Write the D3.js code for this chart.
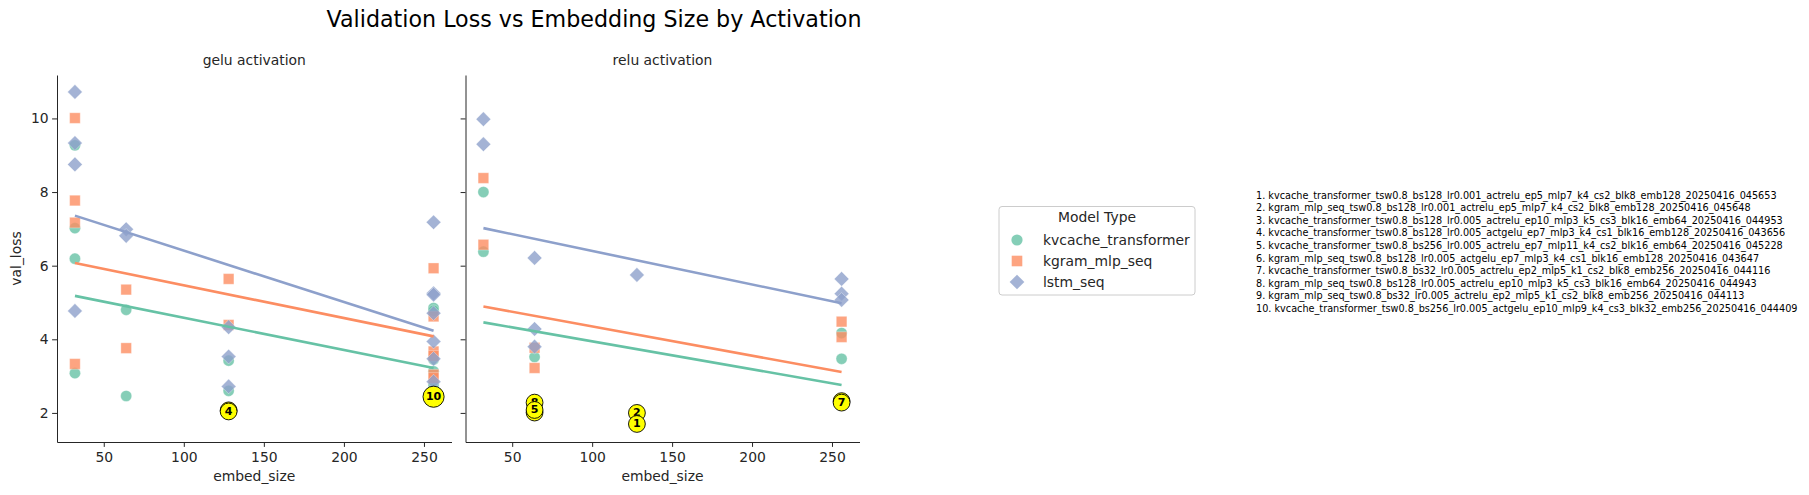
<!DOCTYPE html>
<html><head><meta charset="utf-8">
<script src="https://cdn.jsdelivr.net/npm/d3@7"></script>
<style>body{margin:0;background:#fff}svg{display:block}</style>
</head><body><svg id="c" width="1809" height="495"></svg>
<script>
// ---------------- data ----------------
const models = ["kvcache_transformer", "kgram_mlp_seq", "lstm_seq"];
const activations = ["gelu", "relu"];
const xTicks = [50, 100, 150, 200, 250];
const yTicks = [2, 4, 6, 8, 10];

// [embed_size, val_loss]
const geluKvcache = [[32,9.27],[32,7.02],[32,6.19],[32,3.08],[64,4.80],[64,2.46],[128,3.42],[128,2.60],[128,2.04],[256,4.85],[256,4.78],[256,3.45],[256,3.13],[256,2.76],[256,2.44]];
const geluKgram   = [[32,10.01],[32,7.77],[32,7.17],[32,3.33],[64,5.35],[64,3.76],[128,5.64],[128,4.39],[128,2.07],[256,5.93],[256,4.62],[256,3.67],[256,3.55],[256,3.04],[256,2.95]];
const geluLstm    = [[32,10.72],[32,9.33],[32,8.75],[32,4.77],[64,6.99],[64,6.81],[128,4.33],[128,3.53],[128,2.72],[256,7.18],[256,5.25],[256,5.21],[256,4.71],[256,3.94],[256,3.47],[256,2.85]];
const reluKvcache = [[32,8.00],[32,6.38],[64,3.52],[64,2.08],[64,2.01],[128,1.70],[256,4.17],[256,3.47],[256,2.28]];
const reluKgram   = [[32,8.38],[32,6.57],[64,3.77],[64,3.22],[64,2.28],[128,2.00],[256,4.48],[256,4.06],[256,2.32]];
const reluLstm    = [[32,9.98],[32,9.30],[64,6.21],[64,4.28],[64,3.80],[128,5.75],[256,5.64],[256,5.24],[256,5.07]];

// linear fit values at the ends of the embed range [32, 256]
const fitX = [32, 256];
const geluFitKvcache = [5.18, 3.22];
const geluFitKgram   = [6.07, 4.08];
const geluFitLstm    = [7.36, 4.23];
const reluFitKvcache = [4.46, 2.76];
const reluFitKgram   = [4.89, 3.11];
const reluFitLstm    = [7.02, 4.98];

// best runs: [rank, activation, embed_size, val_loss] (listed in drawing order)
const topMarks = [[10,"gelu",256,2.44],[9,"relu",256,2.32],[3,"relu",64,2.01],[8,"relu",64,2.28],[7,"relu",256,2.28],[6,"gelu",128,2.07],[5,"relu",64,2.08],[4,"gelu",128,2.04],[2,"relu",128,2.00],[1,"relu",128,1.70]];
const topRuns = [
 "kvcache_transformer_tsw0.8_bs128_lr0.001_actrelu_ep5_mlp7_k4_cs2_blk8_emb128_20250416_045653",
 "kgram_mlp_seq_tsw0.8_bs128_lr0.001_actrelu_ep5_mlp7_k4_cs2_blk8_emb128_20250416_045648",
 "kvcache_transformer_tsw0.8_bs128_lr0.005_actrelu_ep10_mlp3_k5_cs3_blk16_emb64_20250416_044953",
 "kvcache_transformer_tsw0.8_bs128_lr0.005_actgelu_ep7_mlp3_k4_cs1_blk16_emb128_20250416_043656",
 "kvcache_transformer_tsw0.8_bs256_lr0.005_actrelu_ep7_mlp11_k4_cs2_blk16_emb64_20250416_045228",
 "kgram_mlp_seq_tsw0.8_bs128_lr0.005_actgelu_ep7_mlp3_k4_cs1_blk16_emb128_20250416_043647",
 "kvcache_transformer_tsw0.8_bs32_lr0.005_actrelu_ep2_mlp5_k1_cs2_blk8_emb256_20250416_044116",
 "kgram_mlp_seq_tsw0.8_bs128_lr0.005_actrelu_ep10_mlp3_k5_cs3_blk16_emb64_20250416_044943",
 "kgram_mlp_seq_tsw0.8_bs32_lr0.005_actrelu_ep2_mlp5_k1_cs2_blk8_emb256_20250416_044113",
 "kvcache_transformer_tsw0.8_bs256_lr0.005_actgelu_ep10_mlp9_k4_cs3_blk32_emb256_20250416_044409"
];

const pointData = {
  gelu: [geluKvcache, geluKgram, geluLstm],
  relu: [reluKvcache, reluKgram, reluLstm]
};
const fitData = {
  gelu: [geluFitKvcache, geluFitKgram, geluFitLstm],
  relu: [reluFitKvcache, reluFitKgram, reluFitLstm]
};

// ---------------- style / layout ----------------
const colors = ["#66c2a5", "#fc8d62", "#8da0cb"];
const txt = "#262626";
const font = "DejaVu Sans, sans-serif";
const panelX = { gelu: [57, 451.5], relu: [465.5, 859.5] };
const yTop = 75, yBot = 442;

const svg = d3.select("#c");
svg.append("rect").attr("width",1809).attr("height",495).attr("fill","#fff");

const y = d3.scaleLinear().domain([1.21, 11.18]).range([yBot, yTop]);

function symbolPath(mi) {
  if (mi === 0) return d3.symbol(d3.symbolCircle, Math.PI*5.6*5.6)();
  if (mi === 1) return d3.symbol(d3.symbolSquare, 10.6*10.6)();
  return d3.symbol(d3.symbolSquare, 10.4*10.4)();
}
function symbolRot(mi) { return mi === 2 ? " rotate(45)" : ""; }

svg.append("text").attr("x", 594).attr("y", 27)
  .attr("text-anchor","middle").attr("font-family",font).attr("font-size",22.2)
  .attr("fill","#000").text("Validation Loss vs Embedding Size by Activation");

activations.forEach((act, ai) => {
  const [x0, x1] = panelX[act];
  const x = d3.scaleLinear().domain([20.8, 267.2]).range([x0, x1]);
  const g = svg.append("g");

  // axes
  const ax = g.append("g").attr("transform",`translate(0,${yBot})`)
    .call(d3.axisBottom(x).tickValues(xTicks).tickSize(4.9).tickSizeOuter(0).tickPadding(3.5).tickFormat(d3.format("d")));
  const ay = g.append("g").attr("transform",`translate(${x0},0)`)
    .call(d3.axisLeft(y).tickValues(yTicks).tickSize(4.9).tickSizeOuter(0).tickPadding(3.5).tickFormat(d3.format("d")));
  [ax, ay].forEach(a => {
    a.selectAll("path.domain").attr("stroke", txt).attr("stroke-width", 1);
    a.selectAll(".tick line").attr("stroke", txt).attr("stroke-width", 1);
    a.selectAll(".tick text").attr("font-family", font).attr("font-size", 13.9).attr("fill", txt);
  });
  ax.selectAll(".tick text").attr("dy", null).attr("y", 20);
  if (ai > 0) ay.selectAll(".tick text").remove();

  g.append("text").attr("x", (x0+x1)/2).attr("y", 481).attr("text-anchor","middle")
    .attr("font-family",font).attr("font-size",13.9).attr("fill",txt).text("embed_size");
  g.append("text").attr("x", (x0+x1)/2).attr("y", 64.5).attr("text-anchor","middle")
    .attr("font-family",font).attr("font-size",13.9).attr("fill",txt).text(act + " activation");
  if (ai === 0) {
    g.append("text").attr("transform",`translate(21,${(yTop+yBot)/2}) rotate(-90)`)
      .attr("text-anchor","middle").attr("font-family",font).attr("font-size",13.9)
      .attr("fill",txt).text("val_loss");
  }

  // scatter points
  models.forEach((m, mi) => {
    g.append("g").selectAll("path").data(pointData[act][mi]).join("path")
      .attr("d", symbolPath(mi))
      .attr("transform", d => `translate(${x(d[0])},${y(d[1])})` + symbolRot(mi))
      .attr("fill", colors[mi]).attr("fill-opacity", 0.8)
      .attr("stroke", "#fff").attr("stroke-width", 0.4).attr("stroke-opacity", 0.8);
  });
  // fit lines
  models.forEach((m, mi) => {
    const pts = fitX.map((xv, i) => [xv, fitData[act][mi][i]]);
    g.append("path").datum(pts)
      .attr("d", d3.line().x(d => x(d[0])).y(d => y(d[1])))
      .attr("fill","none").attr("stroke", colors[mi]).attr("stroke-width", 2.6);
  });
});

// highlighted best runs
const xScales = {};
activations.forEach(act => { xScales[act] = d3.scaleLinear().domain([20.8, 267.2]).range(panelX[act]); });
const hl = svg.append("g");
topMarks.forEach(([rank, act, e, v]) => {
  const cx = xScales[act](e), cy = y(v);
  const lbl = String(rank);
  const tg = hl.append("g");
  const t = tg.append("text").attr("x", cx).attr("y", cy).attr("text-anchor","middle")
    .attr("dominant-baseline","central").attr("font-family",font).attr("font-weight","bold")
    .attr("font-size", 11).attr("fill","#000").text(lbl);
  const w = t.node().getComputedTextLength();
  const r = Math.max(w, 11) / 2 + 2.9;
  tg.insert("circle","text").attr("cx",cx).attr("cy",cy).attr("r",r)
    .attr("fill","#ffff00").attr("stroke","#000").attr("stroke-width",0.9);
});

// legend
const lg = svg.append("g");
lg.append("rect").attr("x",999).attr("y",206.5).attr("width",196).attr("height",88.5)
  .attr("rx",3).attr("fill","#fff").attr("fill-opacity",0.8).attr("stroke","#cccccc").attr("stroke-width",1);
lg.append("text").attr("x",1097).attr("y",222).attr("text-anchor","middle")
  .attr("font-family",font).attr("font-size",13.9).attr("fill",txt).text("Model Type");
models.forEach((m, mi) => {
  const cy = 240 + mi*21;
  lg.append("path").attr("d", symbolPath(mi))
    .attr("transform", `translate(1017,${cy})` + symbolRot(mi))
    .attr("fill", colors[mi]).attr("fill-opacity", 0.8);
  lg.append("text").attr("x",1043).attr("y",cy).attr("dominant-baseline","central")
    .attr("font-family",font).attr("font-size",13.9).attr("fill",txt).text(m);
});

// list of best runs
const lt = svg.append("g");
topRuns.forEach((name, i) => {
  lt.append("text").attr("x",1256).attr("y",195 + i*12.6).attr("dominant-baseline","central")
    .attr("font-family",font).attr("font-size",9.7).attr("fill","#000").text(`${i+1}. ${name}`);
});
</script></body></html>
